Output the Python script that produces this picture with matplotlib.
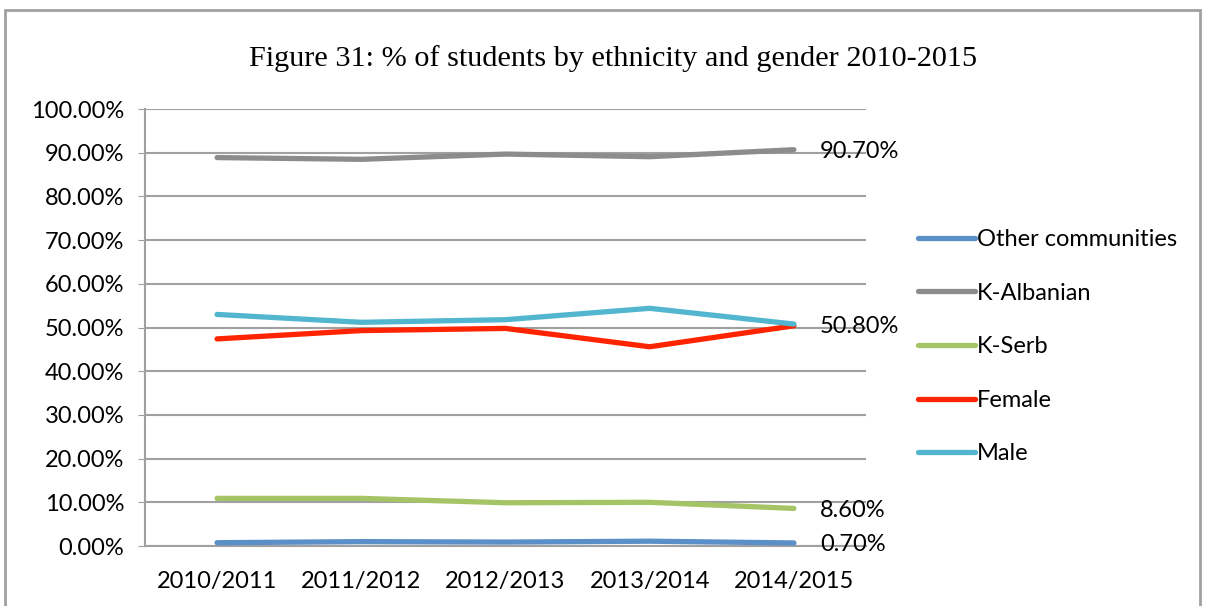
import matplotlib.pyplot as plt
from matplotlib.patches import Rectangle

# Data
years = ['2010/2011', '2011/2012', '2012/2013', '2013/2014', '2014/2015']
other = [0.75, 1.0, 0.9, 1.1, 0.7]
albanian = [88.9, 88.5, 89.7, 89.1, 90.7]
serb = [10.9, 10.9, 9.9, 10.0, 8.6]
female = [47.4, 49.3, 49.8, 45.6, 50.4]
male = [53.0, 51.2, 51.8, 54.4, 50.8]

series = [
    ('Other communities', other, '#5A8FC8', True),
    ('K-Albanian', albanian, '#8C8C8C', True),
    ('K-Serb', serb, '#A5C466', True),
    ('Female', female, '#FF2400', False),
    ('Male', male, '#52B6CF', True),
]

plt.rcParams['font.family'] = ['Lato', 'DejaVu Sans']

fig = plt.figure(figsize=(12.07, 6.06), dpi=100)
ax = fig.add_axes([0.1201, 0.099, 0.5974, 0.721])

x = range(len(years))
for name, vals, color, lab in series:
    ax.plot(x, vals, color=color, lw=3.8, solid_capstyle='round', label=name, zorder=3)
    if lab:
        ax.text(len(years) - 1 + 0.18, vals[-1], f'{vals[-1]:.2f}%', va='center_baseline',
                ha='left', fontsize=17, zorder=4)

ax.set_xlim(-0.5, len(years) - 0.5)
ax.set_ylim(0, 100)
ax.set_yticks(range(0, 101, 10))
ax.set_yticklabels([f'{v:.2f}%' for v in range(0, 101, 10)], fontsize=17)
ax.set_xticks(list(x))
ax.set_xticklabels(years, fontsize=17)
ax.tick_params(axis='x', length=0, pad=18)
ax.tick_params(axis='y', length=5, color='#A0A0A0', pad=10)
ax.grid(axis='y', color='#A0A0A0', lw=1.5, zorder=1)
ax.set_axisbelow(True)
for s in ['top', 'right']:
    ax.spines[s].set_visible(False)
for s in ['left', 'bottom']:
    ax.spines[s].set_color('#A0A0A0')
    ax.spines[s].set_linewidth(1.5)

fig.suptitle('Figure 31: % of students by ethnicity and gender 2010-2015',
             fontfamily='Liberation Serif', fontsize=21.8, x=0.508, y=0.926)

ax.legend(loc='center left', bbox_to_anchor=(1.043, 0.456), frameon=False, fontsize=17,
          handlelength=2.4, handletextpad=0.1, labelspacing=1.38)

fig.add_artist(Rectangle((0.004, -0.01), 0.99, 0.993, transform=fig.transFigure,
                         fill=False, edgecolor='#A0A0A0', lw=2))

plt.savefig('out.png', dpi=100)
